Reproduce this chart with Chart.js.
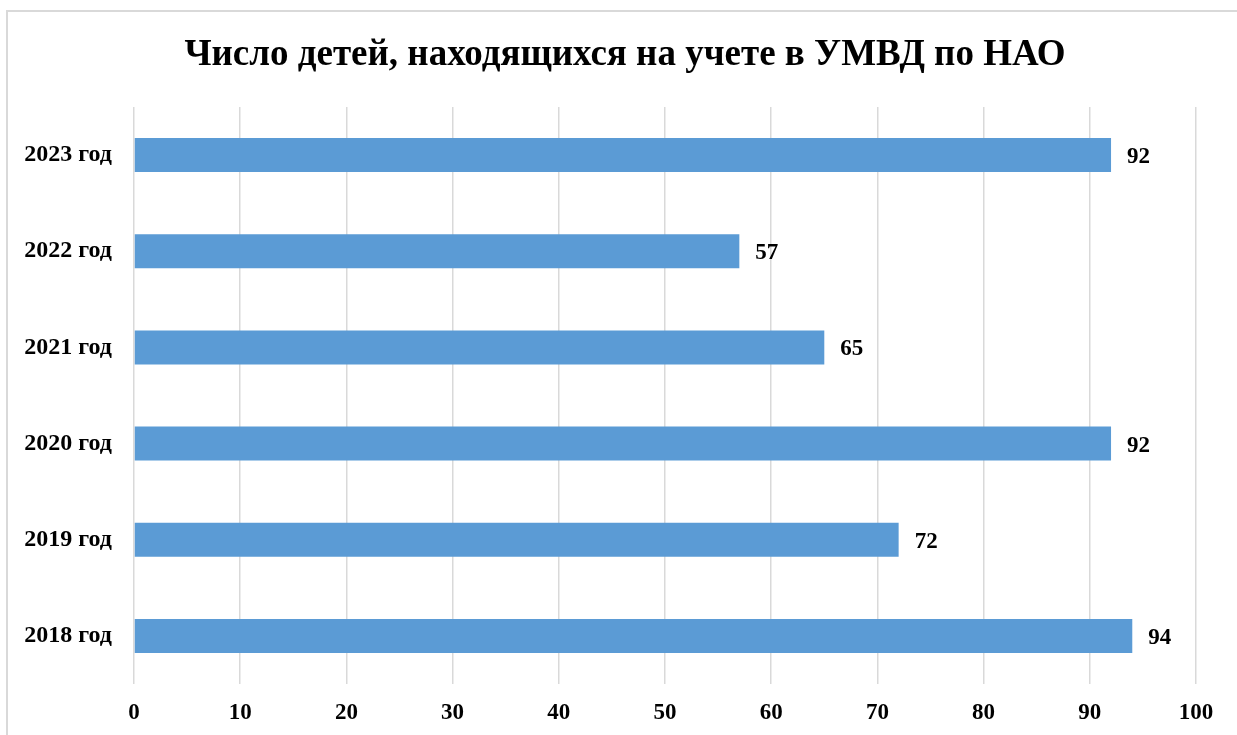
<!DOCTYPE html>
<html>
<head>
<meta charset="utf-8">
<script src="https://cdn.jsdelivr.net/npm/chart.js@4/dist/chart.umd.min.js"></script>
<style>
  html, body { margin: 0; padding: 0; background: #fff; overflow: hidden; }
  #wrap { position: relative; width: 1237px; height: 735px; }
  #frame { position: absolute; left: 6px; top: 10px; width: 1300px; height: 800px; border: 2px solid #d9d9d9; box-sizing: border-box; }
  canvas { position: absolute; left: 0; top: 0; }
</style>
</head>
<body>
<div id="wrap">
  <div id="frame"></div>
  <canvas id="chart" width="1237" height="735"></canvas>
</div>
<script>
const years = ['2018 год', '2019 год', '2020 год', '2021 год', '2022 год', '2023 год'];
const children = [94, 72, 92, 65, 57, 92];
const titleText = 'Число детей, находящихся на учете в УМВД по НАО';

const serif = '"Liberation Serif", "Times New Roman", serif';

// title drawn by hand so it can sit off the plot centre like the original
const chartTitle = {
    id: 'chartTitle',
    afterDraw(chart) {
        const ctx = chart.ctx;
        ctx.save();
        ctx.font = 'bold 37px ' + serif;
        ctx.fillStyle = '#000';
        ctx.textAlign = 'center';
        ctx.textBaseline = 'middle';
        ctx.fillText(titleText, 625, 55);
        ctx.restore();
    }
};

// values at the end of each bar
const barValues = {
    id: 'barValues',
    afterDatasetsDraw(chart) {
        const ctx = chart.ctx;
        ctx.save();
        ctx.font = 'bold 23px ' + serif;
        ctx.fillStyle = '#000';
        ctx.textAlign = 'left';
        ctx.textBaseline = 'middle';
        chart.getDatasetMeta(0).data.forEach((bar, i) => {
            ctx.fillText(children[i], bar.x + 16, bar.y + 2);
        });
        ctx.restore();
    }
};

new Chart(document.getElementById('chart'), {
    type: 'bar',
    data: {
        labels: years,
        datasets: [{
            data: children,
            backgroundColor: '#5b9bd5',
            barPercentage: 0.354,
            categoryPercentage: 1
        }]
    },
    plugins: [barValues, chartTitle],
    options: {
        indexAxis: 'y',
        responsive: false,
        animation: false,
        layout: { padding: { left: 0, right: 41, top: 107, bottom: 0 } },
        plugins: {
            legend: { display: false },
            tooltip: { enabled: false },
            title: { display: false }
        },
        scales: {
            x: {
                min: 0,
                max: 100,
                ticks: {
                    stepSize: 10,
                    color: '#000',
                    padding: 15,
                    maxRotation: 0,
                    font: { family: serif, size: 23, weight: 'bold' }
                },
                grid: { color: '#d9d9d9', lineWidth: 1.5, drawTicks: false },
                border: { display: false },
                afterFit(scale) { scale.height = 51; }
            },
            y: {
                reverse: true,
                ticks: {
                    color: '#000',
                    padding: 22,
                    font: { family: serif, size: 24, weight: 'bold' }
                },
                grid: { display: false, drawTicks: false },
                border: { display: false },
                afterFit(scale) { scale.width = 134; }
            }
        }
    }
});
</script>
</body>
</html>
